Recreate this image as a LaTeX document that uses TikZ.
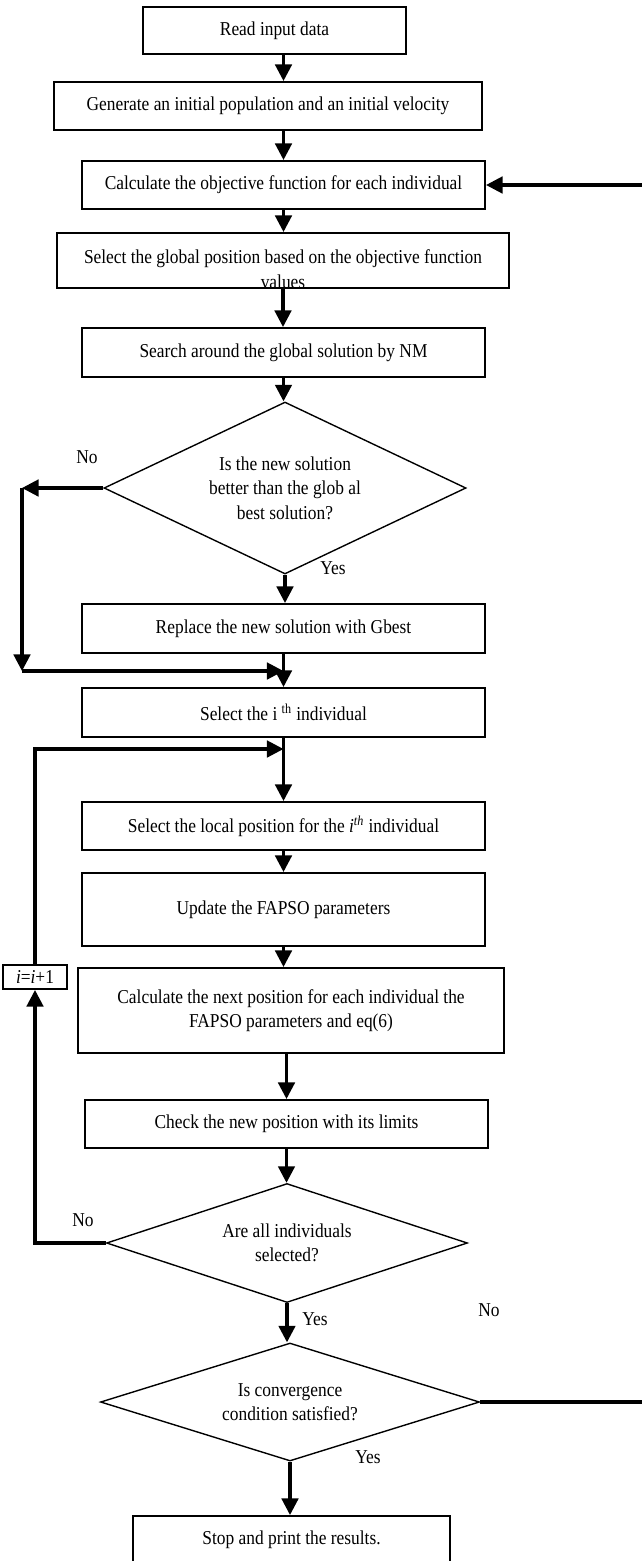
\documentclass[tikz,border=0pt]{standalone}
\usepackage{fontspec}
\setmainfont{Liberation Serif}[FakeStretch=0.885]
\usetikzlibrary{arrows.meta,shapes.geometric}

\begin{document}
\begin{tikzpicture}[
    x=0.575pt, y=-0.575pt,
    font=\fontsize{11.3}{14}\selectfont,
    stepbox/.style={draw, line width=1.15pt, align=center, inner sep=2pt},
    decision/.style={diamond, draw, line width=0.8pt, aspect=2.5, inner sep=0pt, align=center},
    flow/.style={line width=1.75pt, -{Triangle[length=9.5pt,width=9.5pt]}},
    answer/.style={anchor=base}
  ]
  \def\u{0.575pt}
  \useasboundingbox (0,0) rectangle (642,1561);
  \clip (0,0) rectangle (642,1561);
  \foreach \name/\lbl/\x/\y/\w/\h in {
      read/{Read input data}/274.5/30.5/263/47,
      gen/{Generate an initial population and an initial velocity}/268/106/428/48,
      calc/{Calculate the objective function for each individual}/283.5/185/403/48,
      sel/{}/283/260.5/452/55,
      srch/{Search around the global solution by NM}/283.5/352.5/403/49,
      repl/{Replace the new solution with Gbest}/283.5/628.5/403/49,
      ith/{Select the i \textsuperscript{th} individual}/283.5/712.5/403/49,
      loc/{Select the local position for the \textit{i}\textsuperscript{\textit{th}} individual}/283.5/826/403/48,
      upd/{Update the FAPSO parameters}/283.5/909.5/403/73,
      next/{Calculate the next position for each individual the\\FAPSO parameters and eq(6)}/291/1010.5/426/85,
      chk/{Check the new position with its limits}/286.5/1124/403/48,
      stop/{Stop and print the results.}/291.5/1540/317/48} {
    \node[stepbox, minimum width=\w*\u, minimum height=\h*\u] (\name) at (\x,\y) {\lbl};
  }
  \node[align=center] (selt) at (283,269) {Select the global position based on the objective function\\values};
  \node[stepbox, minimum width=64*\u, minimum height=24*\u, inner sep=1pt] (inc) at (35,977) {\textit{i}=\textit{i}+1};

  \node[decision, minimum width=362*\u, minimum height=172*\u] (better) at (285,488) {Is the new solution\\better than the glob al\\best solution?};
  \node[decision, minimum width=361*\u, minimum height=119*\u] (alldone) at (287,1243) {Are all individuals\\selected?};
  \node[decision, minimum width=379*\u, minimum height=118*\u] (conv) at (290,1402) {Is convergence\\condition satisfied?};

  \coordinate (nocorner) at (22,488);
  \coordinate (nojoin) at (22,671);
  \coordinate (merge) at (283.5,671);
  \coordinate (back) at (283.5,749);

  \draw[flow] (read.south -| calc.north) -- (gen.north -| calc.north);
  \draw[flow] (gen.south -| calc.north) -- (calc.north);
  \draw[flow] (calc.south) -- (calc.south |- sel.north);
  \draw[flow] (sel.south) -- (sel.south |- srch.north);
  \draw[flow] (srch.south) -- (srch.south |- better.north);
  \draw[flow] (better.south) -- (better.south |- repl.north);
  \draw[flow] (better.west) -- (nocorner);
  \draw[flow] (nocorner) -- (nojoin);
  \draw[flow] (nojoin) -- (merge);
  \draw[flow] (repl.south) -- (ith.north);
  \draw[flow] (ith.south) -- (loc.north);
  \draw[flow] (loc.south) -- (upd.north);
  \draw[flow] (upd.south) -- (upd.south |- next.north);
  \draw[flow] (next.south -| chk.north) -- (chk.north);
  \draw[flow] (chk.south) -- (chk.south |- alldone.north);
  \draw[flow] (alldone.south) -- (alldone.south |- conv.north);
  \draw[flow] (conv.south) -- (conv.south |- stop.north);
  \draw[flow] (alldone.west) -| (inc.south);
  \draw[flow] (inc.north) |- (back);
  \draw[flow] (conv.east) -- ++(250,0) |- (calc.east);

  \node[answer] (no1) at (87,463) {No};
  \node[answer] (yes1) at (333,574) {Yes};
  \node[answer] (no2) at (83,1226) {No};
  \node[answer] (yes2) at (315,1325) {Yes};
  \node[answer] (no3) at (489,1316) {No};
  \node[answer] (yes3) at (368,1463) {Yes};
\end{tikzpicture}
\end{document}
